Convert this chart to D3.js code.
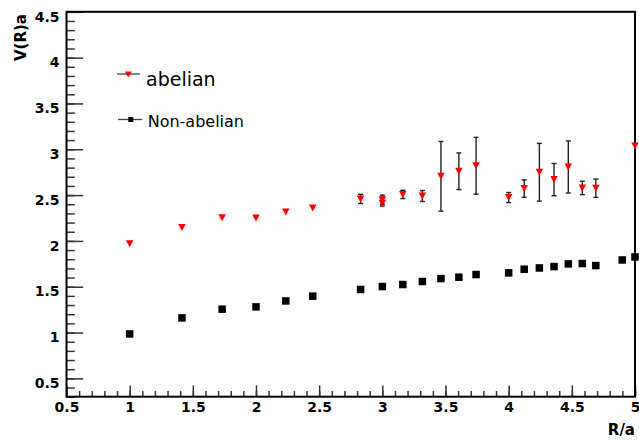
<!DOCTYPE html>
<html>
<head>
<meta charset="utf-8">
<script src="https://cdn.jsdelivr.net/npm/d3@7"></script>
<style>
body{margin:0;background:#fff;}
svg{display:block;}
</style>
</head>
<body>
<div id="chart"></div>
<script>
// abelian: V(R)a with error bars (0 = no bar drawn)
var abelianR=[1,1.414,1.732,2,2.236,2.449,2.828,3,3,3.162,3.317,3.464,3.606,3.742,4,4.123,4.243,4.359,4.472,4.583,4.690,5];
var abelianV=[1.97,2.146,2.253,2.25,2.315,2.36,2.458,2.45,2.41,2.507,2.49,2.705,2.76,2.82,2.473,2.571,2.749,2.669,2.807,2.578,2.575,3.036];
var abelianErr=[0,0,0,0,0,0,0.05,0.05,0.03,0.045,0.06,0.38,0.2,0.31,0.055,0.095,0.315,0.176,0.284,0.073,0.1,0];

// non-abelian
var nonR=[1,1.414,1.732,2,2.236,2.449,2.828,3,3.162,3.317,3.464,3.606,3.742,4,4.123,4.243,4.359,4.472,4.583,4.690,4.899,5];
var nonV=[0.985,1.16,1.255,1.28,1.345,1.397,1.47,1.502,1.524,1.557,1.589,1.604,1.633,1.651,1.691,1.705,1.72,1.749,1.753,1.731,1.792,1.825];

var xMajor=[0.5,1,1.5,2,2.5,3,3.5,4,4.5,5];
var yMajor=[0.5,1,1.5,2,2.5,3,3.5,4,4.5];
var legendLabels=['abelian','Non-abelian'];

var width=639,height=443;
var padL=66.5,padR=635,padT=11.8,padB=396.7;
var fontBold='"DejaVu Sans",sans-serif';

var svg=d3.select('#chart').append('svg')
    .attr('width',width)
    .attr('height',height);

var x=d3.scaleLinear().domain([0.5,5]).range([padL,padR]);
var y=d3.scaleLinear().domain([0.3,4.5]).range([padB,padT]);

var xMinor=d3.range(0.5,5.001,0.1).map(function(d){return +d.toFixed(2);});
var yMinor=d3.range(0.3,4.501,0.1).map(function(d){return +d.toFixed(2);});

// minor ticks first
svg.append('g')
    .attr('transform','translate(0,'+padB+')')
    .call(d3.axisBottom(x).tickValues(xMinor).tickSize(-5.7).tickFormat(''))
    .call(function(g){g.select('.domain').remove();});
svg.append('g')
    .attr('transform','translate('+padL+',0)')
    .call(d3.axisLeft(y).tickValues(yMinor).tickSize(-8.3).tickFormat(''))
    .call(function(g){g.select('.domain').remove();});

// major ticks + labels
var xAxis=svg.append('g')
    .attr('transform','translate(0,'+padB+')')
    .call(d3.axisBottom(x).tickValues(xMajor).tickSize(-11.3).tickPadding(5)
        .tickFormat(function(d){return d;}));
xAxis.select('.domain').remove();

var yAxis=svg.append('g')
    .attr('transform','translate('+padL+',0)')
    .call(d3.axisLeft(y).tickValues(yMajor).tickSize(-16.7).tickPadding(7)
        .tickFormat(function(d){return d;}));
yAxis.select('.domain').remove();
yAxis.selectAll('text').attr('dy','0.66em');

svg.selectAll('.tick text')
    .style('font-family',fontBold)
    .style('font-weight','bold')
    .style('font-size','14px')
    .attr('fill','#000');
svg.selectAll('.tick line').attr('stroke','#333').attr('stroke-width',1.5);

// frame
svg.append('rect')
    .attr('x',padL).attr('y',padT)
    .attr('width',padR-padL).attr('height',padB-padT)
    .attr('fill','none').attr('stroke','#000').attr('stroke-width',2);

// axis titles
svg.append('text')
    .attr('x',padR).attr('y',435)
    .attr('text-anchor','end')
    .style('font-family',fontBold)
    .style('font-weight','bold')
    .style('font-size','15px')
    .text('R/a');
svg.append('text')
    .attr('transform','translate(25.5,14) rotate(-90)')
    .attr('text-anchor','end')
    .style('font-family',fontBold)
    .style('font-weight','bold')
    .style('font-size','15px')
    .text('V(R)a');

// abelian error bars
var abel=abelianR.map(function(r,i){return {r:r,v:abelianV[i],e:abelianErr[i]};});
var eb=svg.append('g').selectAll('g').data(abel.filter(function(d){return d.e>0;})).enter().append('g')
    .attr('stroke','#222').attr('stroke-width',1.4);
eb.append('line')
    .attr('x1',function(d){return x(d.r);}).attr('x2',function(d){return x(d.r);})
    .attr('y1',function(d){return y(d.v-d.e);}).attr('y2',function(d){return y(d.v+d.e);});
eb.append('line')
    .attr('x1',function(d){return x(d.r)-2.5;}).attr('x2',function(d){return x(d.r)+2.5;})
    .attr('y1',function(d){return y(d.v-d.e);}).attr('y2',function(d){return y(d.v-d.e);});
eb.append('line')
    .attr('x1',function(d){return x(d.r)-2.5;}).attr('x2',function(d){return x(d.r)+2.5;})
    .attr('y1',function(d){return y(d.v+d.e);}).attr('y2',function(d){return y(d.v+d.e);});

function downTri(cx,cy,w,h){
    return 'M'+(cx-w/2)+','+(cy-h/2)+'L'+(cx+w/2)+','+(cy-h/2)+'L'+cx+','+(cy+h/2)+'Z';
}

svg.append('g').selectAll('path').data(abel).enter().append('path')
    .attr('d',function(d){return downTri(x(d.r),y(d.v),7.5,7);})
    .attr('fill','#ff0000');

// non-abelian squares
var sq=7.5;
svg.append('g').selectAll('rect').data(nonR).enter().append('rect')
    .attr('x',function(d){return x(d)-sq/2;})
    .attr('y',function(d,i){return y(nonV[i])-sq/2;})
    .attr('width',sq).attr('height',sq)
    .attr('fill','#000');

// legend
var lg=svg.append('g');
lg.append('line').attr('x1',117).attr('x2',140).attr('y1',74).attr('y2',74)
    .attr('stroke','#444').attr('stroke-width',1.3);
lg.append('path').attr('d',downTri(128.3,74.5,7,6)).attr('fill','#ff0000');
lg.append('text').attr('x',146).attr('y',86)
    .style('font-family',fontBold).style('font-size','19px')
    .text(legendLabels[0]);
lg.append('line').attr('x1',118).attr('x2',142).attr('y1',119.5).attr('y2',119.5)
    .attr('stroke','#444').attr('stroke-width',1.3);
lg.append('rect').attr('x',128.3).attr('y',117).attr('width',5).attr('height',5).attr('fill','#000');
lg.append('text').attr('x',147.7).attr('y',126.7)
    .style('font-family',fontBold).style('font-size','16px')
    .text(legendLabels[1]);
</script>
</body>
</html>
